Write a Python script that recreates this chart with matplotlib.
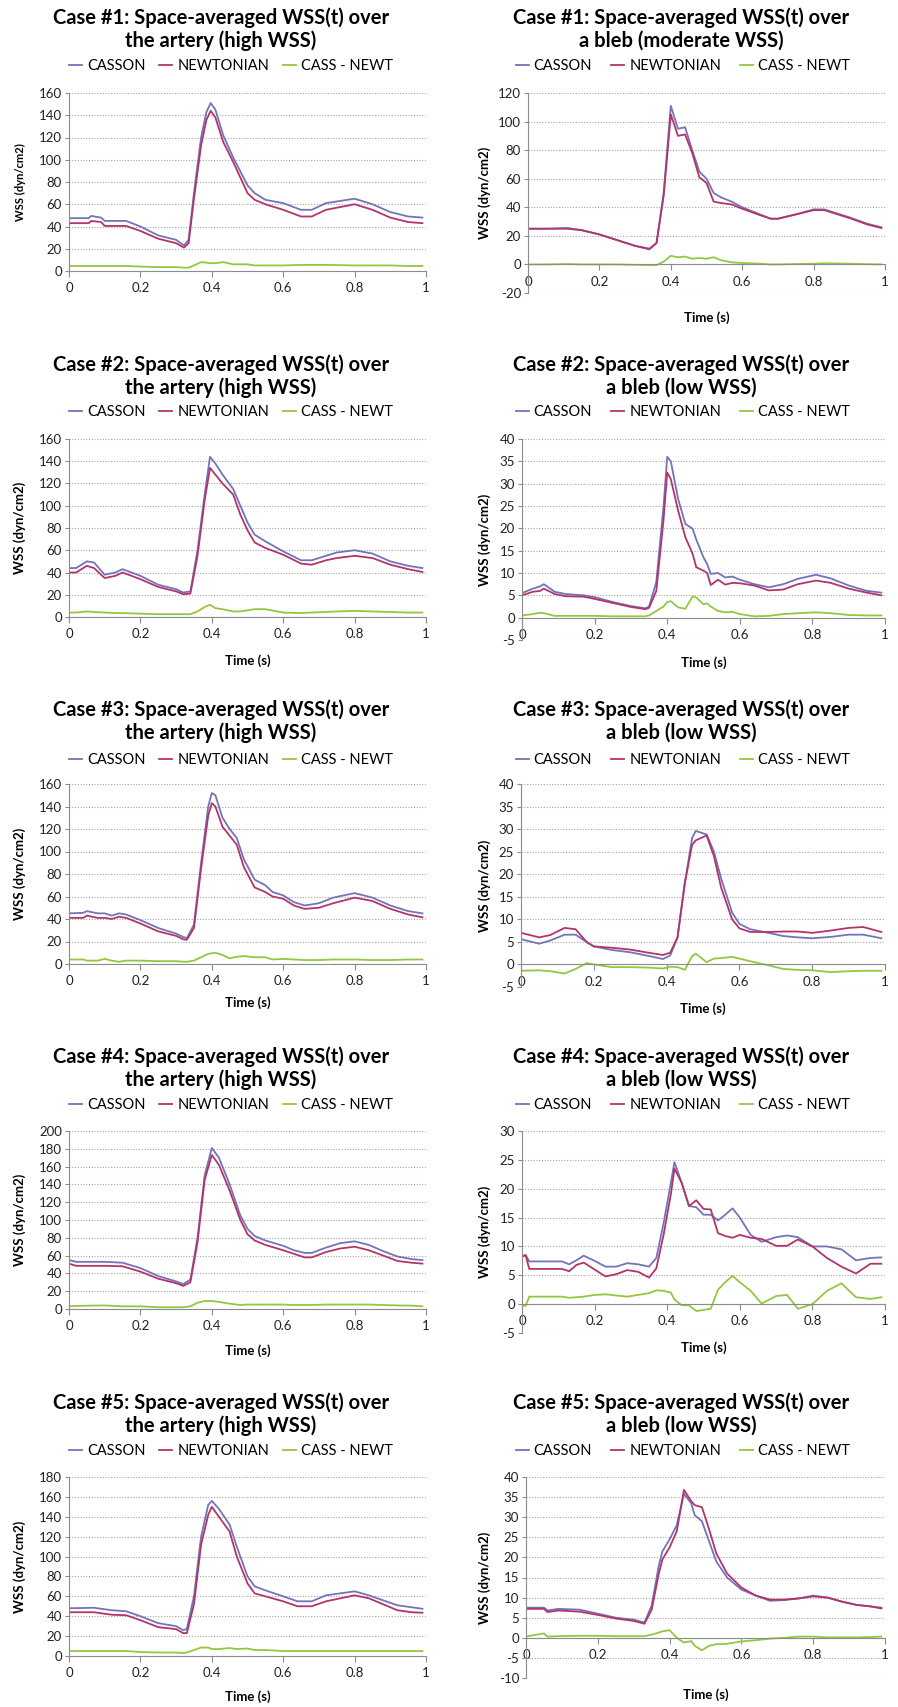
import matplotlib
matplotlib.use("Agg")
import matplotlib.pyplot as plt

plt.rcParams['font.family'] = ['Lato', 'DejaVu Sans']
plt.rcParams['axes.unicode_minus'] = False

W, H = 898, 1707

series_names = ["CASSON", "NEWTONIAN", "CASS - NEWT"]
colors = ["#7274B8", "#B3346A", "#93C83E"]

# ---- Case 1, artery ----
t1a = [0, 0.055, 0.062, 0.09, 0.1, 0.16, 0.2, 0.25, 0.3, 0.322, 0.335, 0.35, 0.37, 0.385, 0.397, 0.41,
       0.432, 0.46, 0.5, 0.52, 0.55, 0.6, 0.65, 0.68, 0.72, 0.8, 0.85, 0.9, 0.95, 0.99]
cas1a = [47.5, 47.5, 49.5, 48, 45, 45, 40, 32, 28, 23, 28, 70, 120, 143, 151, 145,
         122, 102, 77, 70, 64, 61, 55, 55, 61, 65, 60, 53, 49, 48]
new1a = [43, 43, 45, 44, 40.5, 40.5, 36, 29, 25, 21, 25, 65, 113, 136, 144, 138,
         116, 98, 70, 64, 60, 55, 49, 49, 55, 60, 55, 48, 44, 43]
dif1a = [4.5, 4.5, 4.5, 4.5, 4.5, 4.5, 4, 3.5, 3.5, 3, 3, 5, 8, 7.5, 7, 7,
         8, 6, 6, 5, 5, 5, 5.5, 5.5, 5.5, 5, 5, 5, 4.5, 4.5]

# ---- Case 1, bleb ----
t1b = [0, 0.05, 0.11, 0.15, 0.2, 0.25, 0.3, 0.34, 0.36, 0.38, 0.4, 0.42, 0.44, 0.46, 0.48,
       0.5, 0.52, 0.54, 0.57, 0.6, 0.65, 0.68, 0.7, 0.75, 0.8, 0.83, 0.9, 0.95, 0.99]
cas1b = [25, 25, 25.5, 24, 21, 17, 13, 10.5, 15, 50, 111, 95, 96, 80, 65,
         60, 50, 47, 44, 40, 35, 32, 32, 35, 38.5, 38.5, 33, 28.5, 26]
new1b = [25, 25, 25, 24, 21, 17, 13, 11, 15, 48, 105, 90, 91, 78, 61,
         57, 44, 43, 42, 39, 34.5, 32, 32, 35, 38, 38, 32.5, 28, 25.5]
dif1b = [0, 0, 0.3, 0, 0, 0, -0.3, -0.5, -0.5, 2, 6, 5, 5.5, 4, 4.5,
         4, 5, 3, 1.5, 1, 0.5, 0, 0, 0.3, 0.5, 0.8, 0.5, 0.2, 0]

# ---- Case 2, artery ----
t2a = [0, 0.02, 0.05, 0.07, 0.1, 0.13, 0.15, 0.2, 0.25, 0.3, 0.32, 0.34, 0.36, 0.38, 0.395, 0.41,
       0.43, 0.46, 0.48, 0.5, 0.52, 0.55, 0.6, 0.65, 0.68, 0.72, 0.75, 0.8, 0.85, 0.9, 0.95, 0.99]
cas2a = [44, 44, 50, 49, 38, 40, 43, 37, 29, 25, 22, 23, 60, 110, 144, 138,
         128, 115, 100, 85, 74, 68, 59, 51, 51, 55, 58, 60, 57, 50, 46, 44]
new2a = [40, 40, 46, 44, 35, 37, 40, 34, 27, 23, 20.5, 21, 55, 105, 134, 128,
         120, 110, 92, 78, 67, 62, 56, 48, 47, 51, 53, 55, 53, 47, 43, 40.5]
dif2a = [4, 4, 5, 4.5, 4, 3.5, 3.5, 3, 2.5, 2.5, 2.5, 2.5, 5, 9, 11, 8,
         7, 5, 5, 6, 7, 7, 4, 3.5, 4, 4.5, 5, 5.5, 5, 4.5, 4, 4]

# ---- Case 2, bleb ----
t2b = [0, 0.03, 0.05, 0.06, 0.09, 0.12, 0.17, 0.2, 0.25, 0.3, 0.34, 0.35, 0.37, 0.39, 0.40, 0.41,
       0.43, 0.45, 0.47, 0.48, 0.5, 0.51, 0.52, 0.54, 0.56, 0.58, 0.6, 0.64, 0.68, 0.72, 0.76,
       0.81, 0.85, 0.9, 0.95, 0.99]
cas2b = [5.5, 6.5, 7, 7.5, 5.8, 5.3, 5, 4.6, 3.5, 2.6, 2.1, 2.5, 8, 25, 36, 35,
         26.6, 21, 19.9, 17.5, 13.5, 12, 9.8, 10, 9, 9.2, 8.5, 7.5, 6.8, 7.5, 8.7,
         9.6, 8.8, 7.2, 6, 5.6]
new2b = [5, 5.8, 6, 6.5, 5.3, 4.8, 4.7, 4.2, 3.3, 2.4, 1.9, 2.2, 6, 22, 32.5, 31,
         24, 18, 14.3, 11.3, 10.5, 10, 7.3, 8.5, 7.4, 7.8, 7.7, 7.2, 6.1, 6.3, 7.5,
         8.3, 7.8, 6.5, 5.6, 5]
dif2b = [0.5, 0.8, 1.1, 1.0, 0.4, 0.4, 0.4, 0.4, 0.3, 0.3, 0.3, 0.5, 1.5, 2.5, 3.5, 3.7,
         2.3, 2.0, 4.8, 4.5, 3.0, 3.2, 2.5, 1.5, 1.2, 1.3, 0.8, 0.3, 0.4, 0.8, 1.0,
         1.2, 1.0, 0.6, 0.5, 0.5]

# ---- Case 3, artery ----
t3a = [0, 0.04, 0.05, 0.08, 0.1, 0.12, 0.14, 0.16, 0.2, 0.25, 0.3, 0.32, 0.33, 0.35, 0.37, 0.39,
       0.4, 0.41, 0.43, 0.45, 0.47, 0.49, 0.52, 0.55, 0.57, 0.6, 0.63, 0.66, 0.7, 0.74, 0.8,
       0.85, 0.9, 0.95, 0.99]
cas3a = [45, 45.5, 47, 45, 45, 43, 45, 44, 39, 32, 27, 24, 23, 35, 90, 140,
         152, 150, 130, 120, 112, 93, 75, 70, 64, 61, 55, 52, 54, 59, 63,
         59, 52, 47, 45]
new3a = [41, 41, 43, 41, 41, 40, 42, 41, 36, 29, 25, 22, 21.5, 32, 85, 132,
         143, 140, 122, 114, 106, 86, 68, 64, 60, 58, 52, 49, 50, 54, 59,
         56, 49, 44, 41.5]
dif3a = [4, 4, 3, 3, 4.5, 3, 2, 3, 3, 2.5, 2.5, 2, 2, 3, 6, 9,
         9.5, 10, 8, 5, 6.5, 7, 6, 6, 4, 4.5, 4, 3.5, 3.5, 4, 4,
         3.5, 3.5, 4, 4]

# ---- Case 3, bleb ----
t3b = [0, 0.05, 0.08, 0.12, 0.15, 0.18, 0.2, 0.25, 0.3, 0.35, 0.39, 0.41, 0.43, 0.45, 0.47,
       0.48, 0.51, 0.53, 0.55, 0.58, 0.6, 0.63, 0.68, 0.72, 0.76, 0.8, 0.85, 0.9, 0.94, 0.99]
cas3b = [5.6, 4.6, 5.3, 6.6, 6.6, 5, 4, 3.2, 2.7, 1.9, 1.2, 2, 6, 18, 28,
         29.6, 28.8, 25, 19, 11.5, 9, 7.8, 7, 6.3, 6, 5.8, 6.1, 6.6, 6.6, 5.8]
new3b = [7, 6, 6.5, 8.1, 7.8, 5, 4, 3.7, 3.3, 2.6, 2.1, 2.6, 6, 18, 26.5,
         27.5, 28.6, 24, 17, 10, 8, 7.2, 7.2, 7.3, 7.3, 7, 7.5, 8.1, 8.3, 7.2]
dif3b = [-1.4, -1.3, -1.5, -2, -1, 0.3, 0, -0.6, -0.6, -0.7, -0.9, -0.5, -0.6, -1.2, 1.8,
         2.4, 0.5, 1.3, 1.4, 1.7, 1.3, 0.7, -0.2, -1, -1.2, -1.3, -1.7, -1.5, -1.4, -1.4]

# ---- Case 4, artery ----
t4a = [0, 0.02, 0.1, 0.15, 0.2, 0.25, 0.3, 0.32, 0.34, 0.36, 0.38, 0.4, 0.42, 0.45, 0.48,
       0.5, 0.52, 0.55, 0.6, 0.63, 0.66, 0.68, 0.72, 0.76, 0.8, 0.84, 0.88, 0.92, 0.96, 0.99]
cas4a = [55, 53, 53, 52, 46, 37, 31, 28, 33, 80, 150, 181, 170, 140, 105,
         90, 82, 77, 71, 66, 63, 63, 69, 74, 76, 72, 65, 59, 56, 55]
new4a = [51, 48.5, 48.5, 48, 42, 34, 29, 26, 30, 75, 145, 173, 162, 133, 100,
         84, 77, 72, 66, 62, 58, 58, 64, 68, 70, 66, 60, 54, 52, 51]
dif4a = [3, 3.5, 4, 3, 3, 2, 2, 2, 3, 7, 9, 9, 8, 6, 4.5,
         5, 5, 5, 5, 4.5, 4.5, 4.5, 5, 5, 5, 5, 4.5, 4, 3.8, 3]

# ---- Case 4, bleb ----
t4b = [0, 0.01, 0.02, 0.05, 0.11, 0.13, 0.15, 0.17, 0.2, 0.23, 0.26, 0.29, 0.32, 0.35, 0.37,
       0.39, 0.41, 0.42, 0.44, 0.46, 0.48, 0.5, 0.52, 0.54, 0.56, 0.58, 0.6, 0.63, 0.66,
       0.7, 0.73, 0.76, 0.8, 0.84, 0.88, 0.92, 0.96, 0.99]
cas4b = [8.3, 8.5, 7.4, 7.4, 7.4, 6.9, 7.6, 8.4, 7.5, 6.5, 6.5, 7.1, 6.9, 6.5, 8,
         14, 21, 24.6, 21, 17, 16.8, 15.5, 15.5, 14.5, 15.5, 16.6, 15, 12, 10.8,
         11.6, 11.9, 11.6, 10, 10, 9.5, 7.6, 8, 8.1]
new4b = [8.2, 8.5, 6.1, 6.1, 6.1, 5.7, 6.8, 7.2, 6, 4.8, 5.2, 5.9, 5.6, 4.6, 6.2,
         12, 19, 23.5, 21, 17, 18, 16.5, 16.4, 12.3, 11.8, 11.5, 12, 11.5, 11.3,
         10.1, 10.1, 11.2, 10, 8, 6.5, 5.3, 7, 7]
dif4b = [-0.2, -0.3, 1.3, 1.3, 1.3, 1.1, 1.2, 1.3, 1.6, 1.7, 1.5, 1.3, 1.6, 1.9, 2.4,
         2.3, 2, 0.8, -0.2, -0.2, -1.2, -1, -0.8, 2.5, 3.8, 4.9, 3.8, 2.3, 0.1,
         1.4, 1.6, -0.8, 0, 2.3, 3.6, 1.2, 0.9, 1.2]

# ---- Case 5, artery ----
t5a = [0, 0.07, 0.12, 0.16, 0.2, 0.25, 0.3, 0.32, 0.33, 0.35, 0.37, 0.39, 0.4, 0.42, 0.45,
       0.47, 0.5, 0.52, 0.55, 0.6, 0.64, 0.68, 0.72, 0.76, 0.8, 0.84, 0.88, 0.92, 0.96, 0.99]
cas5a = [48, 48.5, 46, 45, 40, 33, 30, 26, 27, 60, 120, 152, 156, 148, 132,
         110, 80, 70, 66, 60, 55, 55, 61, 63, 65, 61, 56, 51, 49, 47.5]
new5a = [44, 44, 41.5, 41, 36, 29, 27, 23, 23, 52, 112, 142, 150, 140, 125,
         100, 73, 63, 60, 55, 50, 50, 55, 58, 61, 58, 52, 46, 44, 43.5]
dif5a = [5, 5, 5, 5, 4, 3.5, 3.5, 3, 3.5, 6, 8.5, 8.5, 7, 7, 8,
         7, 7.5, 6, 6, 5, 5, 5, 5, 5, 5, 5, 5, 5, 5, 5]

# ---- Case 5, bleb ----
t5b = [0, 0.05, 0.06, 0.09, 0.15, 0.2, 0.25, 0.3, 0.33, 0.35, 0.37, 0.38, 0.4, 0.42, 0.44,
       0.46, 0.47, 0.49, 0.51, 0.53, 0.56, 0.6, 0.64, 0.68, 0.72, 0.76, 0.8, 0.84, 0.88,
       0.92, 0.96, 0.99]
cas5b = [7.5, 7.5, 6.8, 7.2, 7, 6, 5, 4.5, 3.8, 8, 18, 21.5, 24.5, 28, 35.8,
         33.5, 30.5, 29, 24, 19, 15, 12, 10.5, 9.2, 9.4, 9.8, 10.5, 10, 9,
         8.2, 7.8, 7.5]
new5b = [7.2, 7.2, 6.4, 6.8, 6.5, 5.7, 4.8, 4.2, 3.5, 7, 16, 19.5, 22.5, 26.5, 36.8,
         34, 33, 32.5, 27, 21, 16, 12.5, 10.5, 9.5, 9.5, 9.8, 10.3, 10, 9,
         8.2, 7.8, 7.3]
dif5b = [0.3, 1.1, 0.3, 0.4, 0.5, 0.5, 0.4, 0.4, 0.4, 0.8, 1.3, 1.6, 1.9, 0, -1.2,
         -0.8, -2, -3.1, -2, -1.6, -1.5, -0.9, -0.6, -0.2, 0, 0.3, 0.3, 0.1, 0.1,
         0.1, 0.2, 0.3]

titles = [
    "Case #1: Space-averaged WSS(t) over\nthe artery (high WSS)",
    "Case #1: Space-averaged WSS(t) over\na bleb (moderate WSS)",
    "Case #2: Space-averaged WSS(t) over\nthe artery (high WSS)",
    "Case #2: Space-averaged WSS(t) over\na bleb (low WSS)",
    "Case #3: Space-averaged WSS(t) over\nthe artery (high WSS)",
    "Case #3: Space-averaged WSS(t) over\na bleb (low WSS)",
    "Case #4: Space-averaged WSS(t) over\nthe artery (high WSS)",
    "Case #4: Space-averaged WSS(t) over\na bleb (low WSS)",
    "Case #5: Space-averaged WSS(t) over\nthe artery (high WSS)",
    "Case #5: Space-averaged WSS(t) over\na bleb (low WSS)",
]
data = [
    (t1a, cas1a, new1a, dif1a), (t1b, cas1b, new1b, dif1b),
    (t2a, cas2a, new2a, dif2a), (t2b, cas2b, new2b, dif2b),
    (t3a, cas3a, new3a, dif3a), (t3b, cas3b, new3b, dif3b),
    (t4a, cas4a, new4a, dif4a), (t4b, cas4b, new4b, dif4b),
    (t5a, cas5a, new5a, dif5a), (t5b, cas5b, new5b, dif5b),
]
ylims = [(0, 160, 20), (-20, 120, 20), (0, 160, 20), (-5, 40, 5), (0, 160, 20),
         (-5, 40, 5), (0, 200, 20), (-5, 30, 5), (0, 180, 20), (-10, 40, 5)]

# layout in pixels: (x0, x1, ytop, ybottom)
boxes = [(69, 426, 93, 271), (528, 885, 93, 293),
         (69, 426, 439, 617), (522, 885, 439, 640),
         (69, 426, 784, 964), (521, 885, 784, 987),
         (69, 426, 1131, 1309), (522, 885, 1131, 1333),
         (69, 426, 1477, 1656), (526, 885, 1477, 1678)]
title_y = [29, 29, 376, 376, 721, 721, 1068, 1068, 1414, 1414]
legend_y = [66, 66, 412, 412, 760, 760, 1105, 1105, 1451, 1451]
xlabel_y = [None, 318, 661, 663, 1003, 1009, 1351, 1348, 1697, 1695]

fig = plt.figure(figsize=(W / 100, H / 100), dpi=100)
axis_grey = "#8C8C8C"

for i in range(10):
    x0, x1, yt, yb = boxes[i]
    ax = fig.add_axes([x0 / W, 1 - yb / H, (x1 - x0) / W, (yb - yt) / H])
    t, c, n, d = data[i]
    for vals, col, name in zip((c, n, d), colors, series_names):
        ax.plot(t, vals, color=col, lw=1.3, label=name, solid_joinstyle="round")
    lo, hi, step = ylims[i]
    ax.set_xlim(0, 1)
    ax.set_ylim(lo, hi)
    ax.set_yticks(range(lo, hi + 1, step))
    ax.set_xticks([0, 0.2, 0.4, 0.6, 0.8, 1])
    ax.set_xticklabels(["0", "0.2", "0.4", "0.6", "0.8", "1"])
    ax.yaxis.grid(True, linestyle=(0, (1, 1.5)), color="#A6A6A6", lw=0.8)
    ax.set_axisbelow(True)
    for s in ("top", "right"):
        ax.spines[s].set_visible(False)
    ax.spines["left"].set_color(axis_grey)
    ax.spines["bottom"].set_color(axis_grey)
    ax.spines["bottom"].set_position(("data", 0))
    ax.tick_params(axis="both", colors=axis_grey, labelcolor="#222222",
                   labelsize=9.5, length=4, width=0.8)
    ax.tick_params(axis="y", length=3, pad=2)
    ax.tick_params(axis="x", pad=4)

    col = i % 2
    tx = 221 if col == 0 else 681
    fig.text(tx / W, 1 - title_y[i] / H, titles[i], ha="center", va="center",
             fontsize=14.5, fontweight="bold", linespacing=1.15)
    lx = 231 if col == 0 else 683
    fig.legend(*ax.get_legend_handles_labels(), loc="center",
               bbox_to_anchor=(lx / W, 1 - legend_y[i] / H), ncol=3, frameon=False,
               fontsize=10.5, handlelength=0.9, handletextpad=0.35,
               columnspacing=0.95 if col == 0 else 1.3,
               borderpad=0, borderaxespad=0)
    ylx = 20 if col == 0 else 485
    fig.text(ylx / W, 1 - (yt + yb) / 2 / H, "WSS (dyn/cm2)", rotation=90,
             ha="center", va="center", fontsize=8 if i == 0 else 9.5,
             fontweight="bold")
    if xlabel_y[i] is not None:
        fig.text((x0 + x1) / 2 / W, 1 - xlabel_y[i] / H, "Time (s)", ha="center",
                 va="center", fontsize=9.5, fontweight="bold")

fig.savefig("out.png", dpi=100, facecolor="white")
